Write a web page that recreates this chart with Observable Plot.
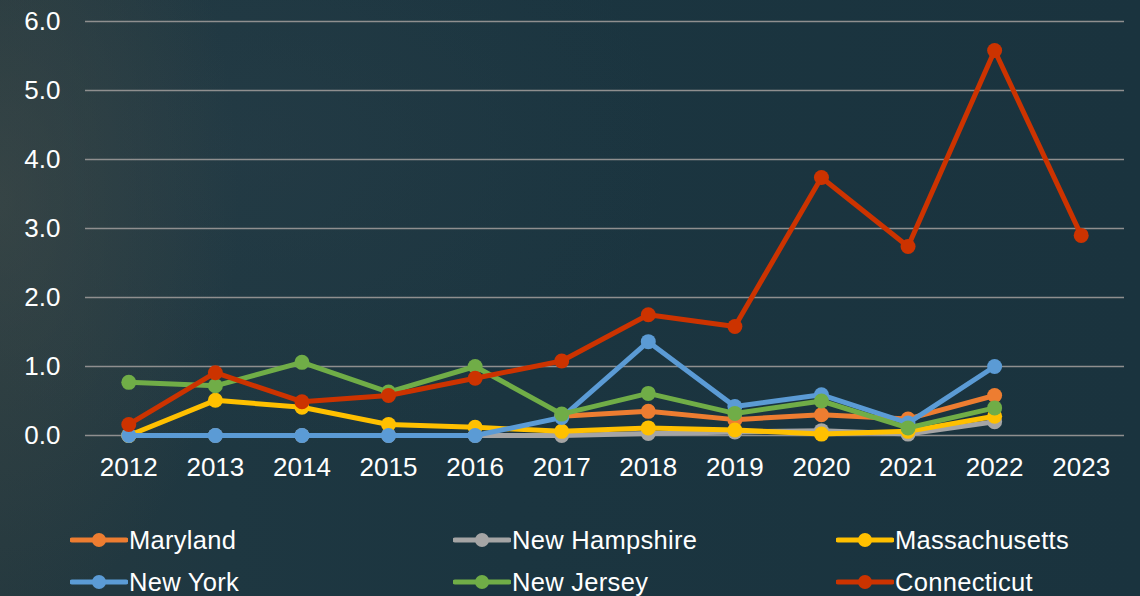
<!DOCTYPE html>
<html>
<head>
<meta charset="utf-8">
<script src="https://cdn.jsdelivr.net/npm/d3@7"></script>
<script src="https://cdn.jsdelivr.net/npm/@observablehq/plot@0.6"></script>
<style>
  html, body { margin: 0; padding: 0; }
  body {
    width: 1140px; height: 596px; overflow: hidden; position: relative;
    background:
      radial-gradient(ellipse 240px 420px at 0px 200px, rgba(70,78,74,0.5), rgba(70,78,74,0) 100%),
      radial-gradient(ellipse 420px 300px at 250px 150px, rgba(40,62,72,0.5), rgba(40,62,72,0) 100%),
      linear-gradient(90deg, #25393f 0%, #1e3741 20%, #1b3540 45%, #1a333e 100%);
    font-family: "Liberation Sans", Arial, sans-serif;
    color: #fff;
  }
  #chart { position: absolute; left: 0; top: 0; }
  #legend { position: absolute; left: 0; top: 500px; width: 1140px; height: 96px; }
  .item { position: absolute; display: flex; align-items: center; height: 30px; font-size: 25.5px; letter-spacing: 0.3px; white-space: nowrap; }
  .item svg { margin-right: 1px; }
</style>
</head>
<body>
<div id="chart"></div>
<div id="legend"></div>
<script>
const years = [2012, 2013, 2014, 2015, 2016, 2017, 2018, 2019, 2020, 2021, 2022, 2023];
const states = ["Maryland", "New Hampshire", "Massachusetts", "New York", "New Jersey", "Connecticut"];
const colors = ["#ED7D31", "#A5A5A5", "#FFC000", "#5B9BD5", "#70AD47", "#CC3300"];

const maryland      = [null, null, null, null, null, 0.28, 0.35, 0.23, 0.30, 0.24, 0.58, null];
const newHampshire  = [0, 0, 0, 0, 0, 0, 0.03, 0.05, 0.07, 0.02, 0.20, null];
const massachusetts = [0, 0.51, 0.41, 0.16, 0.12, 0.06, 0.11, 0.08, 0.02, 0.06, 0.28, null];
const newYork       = [0, 0, 0, 0, 0, 0.26, 1.36, 0.42, 0.59, 0.18, 1.00, null];
const newJersey     = [0.77, 0.72, 1.06, 0.63, 1.00, 0.31, 0.61, 0.32, 0.50, 0.11, 0.40, null];
const connecticut   = [0.16, 0.91, 0.49, 0.58, 0.83, 1.08, 1.75, 1.58, 3.74, 2.74, 5.58, 2.90];

const yTicks = [0, 1, 2, 3, 4, 5, 6];

const series = [maryland, newHampshire, massachusetts, newYork, newJersey, connecticut];
const data = series.map((vals, i) => years.map((yr, j) => ({year: yr, value: vals[j], state: states[i]})));

const marks = [
  Plot.gridY(yTicks, {stroke: "#8f8f8f", strokeOpacity: 1, strokeWidth: 1.6}),
  Plot.axisY(yTicks, {tickSize: 0, tickPadding: 25, tickFormat: d3.format(".1f"), fill: "#fff", fontSize: 26, label: null}),
  Plot.axisX({tickSize: 0, tickPadding: 22, fill: "#fff", fontSize: 26, label: null, tickFormat: d => String(d)})
];
data.forEach((rows, i) => {
  marks.push(Plot.line(rows, {x: "year", y: "value", stroke: colors[i], strokeWidth: 5, strokeLinejoin: "round", strokeLinecap: "round"}));
  marks.push(Plot.dot(rows.filter(d => d.value != null), {x: "year", y: "value", fill: colors[i], r: 7.5, stroke: "none"}));
});

const chart = Plot.plot({
  width: 1140,
  height: 500,
  marginLeft: 85,
  marginRight: 16,
  marginTop: 21,
  marginBottom: 65,
  style: {background: "transparent", color: "#fff", fontFamily: "Liberation Sans, Arial, sans-serif"},
  x: {type: "point", domain: years, padding: 0.5, round: false, label: null},
  y: {domain: [0, 6], label: null},
  marks
});
document.getElementById("chart").appendChild(chart);

// Legend (HTML, below the SVG)
const legendPos = [[70, 25], [453, 25], [836, 25], [70, 67], [453, 67], [836, 67]];
const legend = document.getElementById("legend");
states.forEach((s, i) => {
  const div = document.createElement("div");
  div.className = "item";
  div.style.left = legendPos[i][0] + "px";
  div.style.top = legendPos[i][1] + "px";
  div.innerHTML = `<svg width="58" height="20"><line x1="2" x2="56" y1="10" y2="10" stroke="${colors[i]}" stroke-width="5" stroke-linecap="round"/><circle cx="29" cy="10" r="7" fill="${colors[i]}"/></svg><span>${s}</span>`;
  legend.appendChild(div);
});
</script>
</body>
</html>
